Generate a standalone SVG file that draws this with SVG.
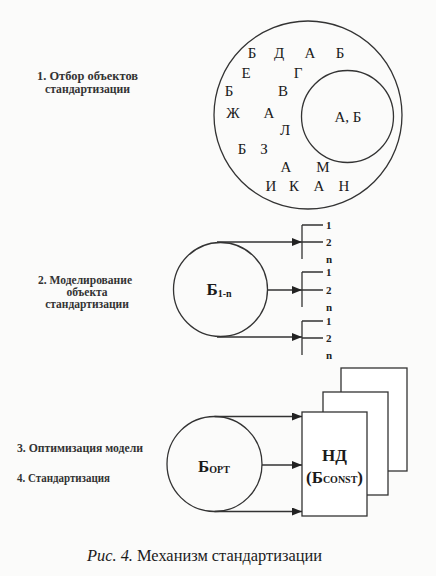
<svg xmlns="http://www.w3.org/2000/svg" width="436" height="576" viewBox="0 0 436 576">
<defs>
<marker id="ah" viewBox="0 0 10 8" refX="10" refY="4" markerWidth="10" markerHeight="8" markerUnits="userSpaceOnUse" orient="auto">
<path d="M0,0 L10,4 L0,8 Z" fill="#222"/>
</marker>
</defs>
<style>
.ln{fill:none;stroke:#333;stroke-width:1.3}
.bx{fill:#fff;stroke:#333;stroke-width:1.3}
.lt{font-family:"Liberation Serif","Times New Roman","DejaVu Serif",serif;font-size:15px;fill:#1a1a1a;text-anchor:middle}
.lb{font-family:"Liberation Serif","Times New Roman","DejaVu Serif",serif;font-size:11.5px;font-weight:bold;fill:#333}
.num{font-family:"Liberation Serif","Times New Roman","DejaVu Serif",serif;font-size:11px;font-weight:bold;fill:#222}
.big{font-family:"Liberation Serif","Times New Roman","DejaVu Serif",serif;font-size:17px;font-weight:bold;fill:#1a1a1a;text-anchor:middle}
.sub{font-size:10px}
.cap{font-family:"Liberation Serif","Times New Roman","DejaVu Serif",serif;font-size:16px;fill:#1a1a1a}
</style>
<rect width="436" height="576" fill="#fbfbfa"/>

<g id="label1">
<text class="lb" x="37" y="80" textLength="101" lengthAdjust="spacingAndGlyphs">1. Отбор объектов</text>
<text class="lb" x="45" y="93" textLength="85" lengthAdjust="spacingAndGlyphs">стандартизации</text>
</g>

<g id="set-all">
<circle class="ln" cx="308" cy="115" r="94"/>
<text class="lt" x="252" y="58">Б</text>
<text class="lt" x="279" y="58">Д</text>
<text class="lt" x="310" y="58">А</text>
<text class="lt" x="340" y="58">Б</text>
<text class="lt" x="246" y="78">Е</text>
<text class="lt" x="298" y="78">Г</text>
<text class="lt" x="229" y="96">Б</text>
<text class="lt" x="283" y="96">В</text>
<text class="lt" x="233" y="118">Ж</text>
<text class="lt" x="269" y="118">А</text>
<text class="lt" x="285" y="135">Л</text>
<text class="lt" x="242" y="154">Б</text>
<text class="lt" x="264" y="154">З</text>
<text class="lt" x="286" y="172">А</text>
<text class="lt" x="323" y="172">М</text>
<text class="lt" x="271" y="191">И</text>
<text class="lt" x="294" y="191">К</text>
<text class="lt" x="319" y="191">А</text>
<text class="lt" x="344" y="191">Н</text>
</g>

<g id="set-selected">
<circle class="ln" cx="347.5" cy="116.5" r="46"/>
<text class="lt" x="348" y="122">А, Б</text>
</g>

<g id="label2">
<text class="lb" x="38" y="284" textLength="94" lengthAdjust="spacingAndGlyphs">2. Моделирование</text>
<text class="lb" x="87" y="296" text-anchor="middle">объекта</text>
<text class="lb" x="87" y="308" text-anchor="middle">стандартизации</text>
</g>

<g id="model">
<circle class="ln" cx="220.5" cy="289.5" r="47"/>
<text class="big" x="219" y="295">Б<tspan class="sub" dy="2">1-n</tspan></text>
</g>

<g id="variants1">
<path class="ln" d="M302,225 V259 M302,225 H323 M302,242 H323"/>
<text class="num" x="326" y="229">1</text>
<text class="num" x="326" y="246">2</text>
<text class="num" x="326" y="263">n</text>
</g>
<g id="variants2">
<path class="ln" d="M302,272 V307 M302,272 H323 M302,290 H323"/>
<text class="num" x="326" y="276">1</text>
<text class="num" x="326" y="294">2</text>
<text class="num" x="326" y="311">n</text>
</g>
<g id="variants3">
<path class="ln" d="M302,321 V355 M302,321 H323 M302,338 H323"/>
<text class="num" x="326" y="325">1</text>
<text class="num" x="326" y="342">2</text>
<text class="num" x="326" y="359">n</text>
</g>

<g id="label34">
<text class="lb" x="17" y="452" textLength="126" lengthAdjust="spacingAndGlyphs">3. Оптимизация модели</text>
<text class="lb" x="17" y="482" textLength="93" lengthAdjust="spacingAndGlyphs">4. Стандартизация</text>
</g>

<g id="optimum">
<circle class="ln" cx="214.5" cy="464" r="47.5"/>
<text class="big" x="214" y="472">Б<tspan class="sub" dy="1">ОРТ</tspan></text>
</g>

<g id="docs">
<rect class="bx" x="341" y="368" width="66" height="103"/>
<rect class="bx" x="323" y="392" width="65" height="103"/>
<rect class="bx" x="302" y="412" width="65" height="104"/>
<text class="big" x="334.5" y="461" font-size="20">НД</text>
<text class="big" x="334.5" y="483">(Б<tspan class="sub">CONST</tspan>)</text>
</g>

<g id="connectors">
<path class="ln" d="M217,242 H302" marker-end="url(#ah)"/>
<path class="ln" d="M267.5,290 H302" marker-end="url(#ah)"/>
<path class="ln" d="M217,337 H302" marker-end="url(#ah)"/>
<path class="ln" d="M214.5,416.5 H302" marker-end="url(#ah)"/>
<path class="ln" d="M262,465 H302" marker-end="url(#ah)"/>
<path class="ln" d="M214.5,511.5 H302" marker-end="url(#ah)"/>
</g>

<g id="caption">
<text class="cap" x="87" y="561" textLength="235" lengthAdjust="spacingAndGlyphs"><tspan font-style="italic">Рис. 4.</tspan> Механизм стандартизации</text>
</g>
</svg>
